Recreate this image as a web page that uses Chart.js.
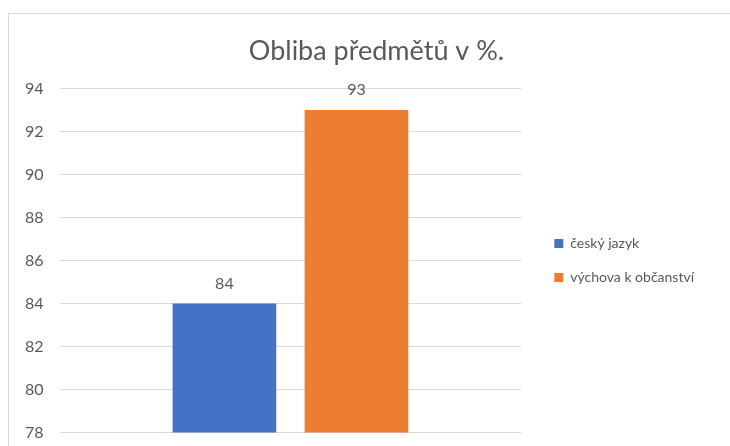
<!DOCTYPE html>
<html>
<head>
<meta charset="utf-8">
<script src="https://cdn.jsdelivr.net/npm/chart.js@4/dist/chart.umd.min.js"></script>
<style>
  html, body { margin: 0; padding: 0; background: #fff; overflow: hidden; }
  #frame {
    position: absolute; left: 8px; top: 13px;
    width: 760px; height: 460px;
    border: 1px solid #d9d9d9;
  }
  #chart { display: block; }
</style>
</head>
<body>
<div id="frame">
  <canvas id="chart" width="735" height="444"></canvas>
</div>
<script>
const categories = [""];
const seriesNames = ["český jazyk", "výchova k občanství"];
const seriesValues = [[84], [93]];
const seriesColors = ["#4472C4", "#ED7D31"];
const yTicks = [78, 80, 82, 84, 86, 88, 90, 92, 94];

const textGray = "#595959";
const fontName = "Lato, 'Liberation Sans', sans-serif";

// value labels above each bar
const barLabels = {
  id: "barLabels",
  afterDatasetsDraw(chart) {
    const ctx = chart.ctx;
    ctx.save();
    ctx.font = "16px " + fontName;
    ctx.fillStyle = textGray;
    ctx.textAlign = "center";
    ctx.textBaseline = "middle";
    chart.data.datasets.forEach((ds, i) => {
      chart.getDatasetMeta(i).data.forEach((bar, j) => {
        ctx.fillText(ds.data[j], bar.x, bar.y - 20);
      });
    });
    ctx.restore();
  }
};

// empty axis used only to reserve room at the right
function spacer(width, weight) {
  return {
    type: "linear",
    position: "right",
    weight: weight,
    grid: { display: false },
    border: { display: false },
    ticks: { display: false },
    afterFit: (axis) => { axis.width = width; }
  };
}

const datasets = seriesNames.map((name, i) => ({
  label: name,
  data: seriesValues[i],
  backgroundColor: seriesColors[i],
  borderWidth: 0,
  categoryPercentage: 0.572,
  barPercentage: 0.785
}));

new Chart(document.getElementById("chart"), {
  type: "bar",
  data: { labels: categories, datasets: datasets },
  options: {
    responsive: false,
    animation: false,
    layout: { padding: 0 },
    plugins: {
      title: {
        display: true,
        text: "Obliba předmětů v %.",
        color: textGray,
        font: { family: fontName, size: 27, weight: "normal", lineHeight: 1.2 },
        padding: { top: 21, bottom: 21 }
      },
      legend: {
        position: "right",
        align: "center",
        fullSize: false,
        maxWidth: 300,
        labels: {
          color: textGray,
          font: { family: fontName, size: 14 },
          boxWidth: 9,
          boxHeight: 9,
          padding: 20
        }
      },
      tooltip: { enabled: false }
    },
    scales: {
      x: { display: false },
      y: {
        min: yTicks[0],
        max: yTicks[yTicks.length - 1],
        afterBuildTicks: (axis) => { axis.ticks = yTicks.map(v => ({ value: v })); },
        grid: { color: "#d9d9d9", drawTicks: false },
        border: { display: false },
        ticks: {
          color: textGray,
          padding: 16,
          font: { family: fontName, size: 16 }
        }
      },
      gap: spacer(13, 0),
      edge: spacer(40, 2000)
    }
  },
  plugins: [barLabels]
});
</script>
</body>
</html>
